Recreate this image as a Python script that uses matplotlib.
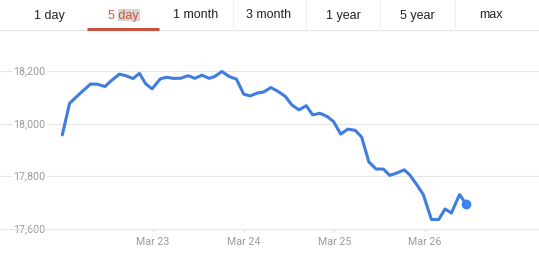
import numpy as np
import matplotlib
matplotlib.use('Agg')
from matplotlib import pyplot as plt
from matplotlib.patches import Rectangle

# tabs on top
tab_labels = ['1 day', '5 day', '1 month', '3 month', '1 year', '5 year', 'max']
tab_centers = [49, 123, 196, 269, 343, 417, 491]
tab_edges = [87, 159, 233, 306, 380, 455]
active_tab = 1

# index values, time in days of March
days = [22.00, 22.08, 22.20, 22.31, 22.38, 22.47, 22.54, 22.63, 22.70, 22.78,
        22.85, 22.92, 22.99, 23.08, 23.15, 23.22, 23.30, 23.39, 23.46, 23.54,
        23.62, 23.68, 23.76, 23.84, 23.92, 24.00, 24.07, 24.15, 24.22, 24.30,
        24.38, 24.46, 24.53, 24.61, 24.69, 24.76, 24.84, 24.92, 24.99, 25.07,
        25.15, 25.23, 25.30, 25.38, 25.46, 25.54, 25.61, 25.69, 25.77, 25.83,
        25.91, 25.98, 26.07, 26.15, 26.22, 26.29, 26.38, 26.45]
values = [17958, 18078, 18117, 18151, 18151, 18142, 18164, 18189, 18183, 18172,
          18192, 18152, 18133, 18171, 18177, 18173, 18173, 18183, 18173, 18185,
          18173, 18180, 18199, 18180, 18170, 18113, 18106, 18117, 18121, 18138,
          18123, 18104, 18072, 18053, 18069, 18034, 18040, 18028, 18009, 17961,
          17980, 17975, 17950, 17855, 17828, 17828, 17804, 17813, 17825, 17806,
          17768, 17731, 17636, 17636, 17676, 17661, 17731, 17696]
yticks = [17600, 17800, 18000, 18200]
xticks = [23, 24, 25, 26]
xtick_labels = ['Mar 23', 'Mar 24', 'Mar 25', 'Mar 26']

W, H = 539, 256
fig = plt.figure(figsize=(W / 100, H / 100), dpi=100)
fig.patch.set_facecolor('white')

# overlay in pixel coords for the tab bar
top = fig.add_axes([0, 0, 1, 1])
top.set_xlim(0, W)
top.set_ylim(H, 0)
top.axis('off')
top.plot([0, W], [30, 30], color='#e3e3e3', lw=0.8)
for e in tab_edges[2:]:
    top.plot([e, e], [0, 30], color='#f0f0f0', lw=0.8)
top.plot([tab_edges[0], tab_edges[1]], [29, 29], color='#c9513f', lw=2.2, solid_capstyle='butt')
top.add_patch(Rectangle((117.5, 9), 22, 12, color='#d6d6d6', lw=0))
for i, (lab, c) in enumerate(zip(tab_labels, tab_centers)):
    col = '#d2553f' if i == active_tab else '#222222'
    top.text(c, 15.5, lab, ha='center', va='center', fontsize=9,
             family='Liberation Sans', color=col)

# chart
ax = fig.add_axes([0, 1 - 229 / H, 1, (229 - 50.2) / H])
ax.patch.set_alpha(0)
ax.plot(days, values, color='#3f7de0', lw=2.2, solid_joinstyle='round',
        solid_capstyle='round', clip_on=False, zorder=3)
ax.plot(days[-1], values[-1], 'o', color='#3d82f0', ms=6, clip_on=False, zorder=4)
ax.set_xlim(21.313, 27.256)
ax.set_ylim(17600, 18280)
for s in ['top', 'left', 'right']:
    ax.spines[s].set_visible(False)
ax.spines['bottom'].set_color('#e6e6e6')
ax.spines['bottom'].set_linewidth(0.8)
for v in yticks[1:]:
    ax.axhline(v, color='#e6e6e6', lw=0.8, zorder=1)
for v in yticks:
    ax.text(13 / W, v, f'{v:,}', transform=ax.get_yaxis_transform(),
            ha='left', va='center', fontsize=7.7, family='Roboto', color='#9a9a9a',
            bbox=dict(facecolor='white', edgecolor='none', pad=1.0), zorder=2)
ax.set_yticks([])
ax.set_xticks(xticks)
ax.set_xticklabels(xtick_labels, family='Roboto', fontsize=7.7, color='#9a9a9a')
ax.tick_params(axis='x', length=2.5, width=0.8, color='#dcdcdc', pad=3)

fig.savefig('out.png', dpi=100)
